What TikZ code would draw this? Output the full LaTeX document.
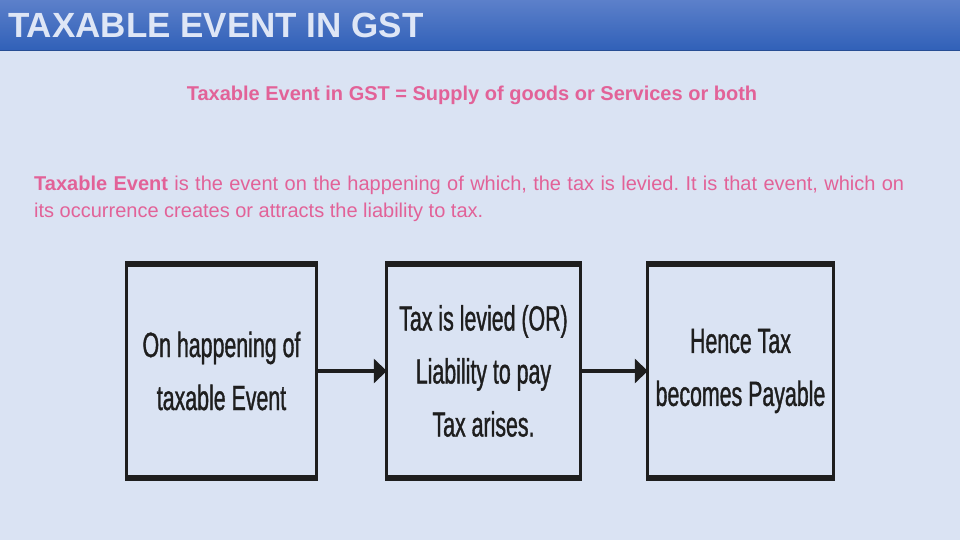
\documentclass[tikz,border=0pt]{standalone}
\usepackage{fontspec}
\setmainfont{Liberation Sans}
\newfontfamily\narrowfont[FakeStretch=0.61,FakeBold=1]{Liberation Sans}
\usetikzlibrary{arrows.meta,positioning}
\definecolor{slidebg}{RGB}{218,227,243}
\definecolor{bartop}{RGB}{92,128,202}
\definecolor{barbot}{RGB}{48,96,184}
\definecolor{pinktext}{RGB}{226,98,152}
\definecolor{titletext}{RGB}{222,230,246}
\definecolor{boxtext}{RGB}{30,30,30}

\begin{document}
\begin{tikzpicture}[x=1pt,y=-1pt,
    stepbox/.style={minimum width=#1,minimum height=214pt,inner sep=0pt,align=center,
      font=\narrowfont\fontsize{35}{53}\selectfont,text=boxtext},
    flow/.style={line width=4pt,draw=boxtext,-{Triangle[length=13pt,width=24pt]}}]
  \useasboundingbox (0,0) rectangle (960,540);
  \fill[slidebg] (0,0) rectangle (960,540);
  % title bar
  \shade[top color=bartop,bottom color=barbot] (0,0) rectangle (960,51);
  \draw[barbot!80!black,line width=1pt] (0,51) -- (960,51);
  \node[anchor=west,inner sep=0pt,text=titletext,font=\bfseries\fontsize{35}{40}\selectfont] (title) at (8,25) {TAXABLE EVENT IN GST};
  % texts
  \node[text=pinktext,font=\bfseries\fontsize{20}{24}\selectfont] (defn) at (472,95) {Taxable Event in GST = Supply of goods or Services or both};
  \node[anchor=north west,text width=870pt,align=justify,inner sep=0pt,text=pinktext,font=\fontsize{20}{27}\selectfont\frenchspacing] (para) at (34,176)
    {\textbf{Taxable Event} is the event on the happening of which, the tax is levied. It is that event, which on\linebreak its occurrence creates or attracts the liability to tax.};
  % boxes
  \node[stepbox=189pt] (event) at (221.5,371) {On happening of\\taxable Event};
  \node[stepbox=193pt] (levy) at (483.5,371) {Tax is levied (OR)\\Liability to pay\\Tax arises.};
  \node[stepbox=185pt] (payable) at (740.5,371) {Hence Tax\\becomes Payable};
  \foreach \b in {event,levy,payable}
  {\draw[line width=3pt,boxtext] (\b.north west) -- (\b.south west) (\b.north east) -- (\b.south east);
   \draw[line width=6pt,boxtext] ([xshift=-1.5pt]\b.north west) -- ([xshift=1.5pt]\b.north east)
     ([xshift=-1.5pt]\b.south west) -- ([xshift=1.5pt]\b.south east);}
  \draw[flow] (event.east) -- (levy.west);
  \draw[flow] (levy.east) -- (payable.west);
\end{tikzpicture}
\end{document}
